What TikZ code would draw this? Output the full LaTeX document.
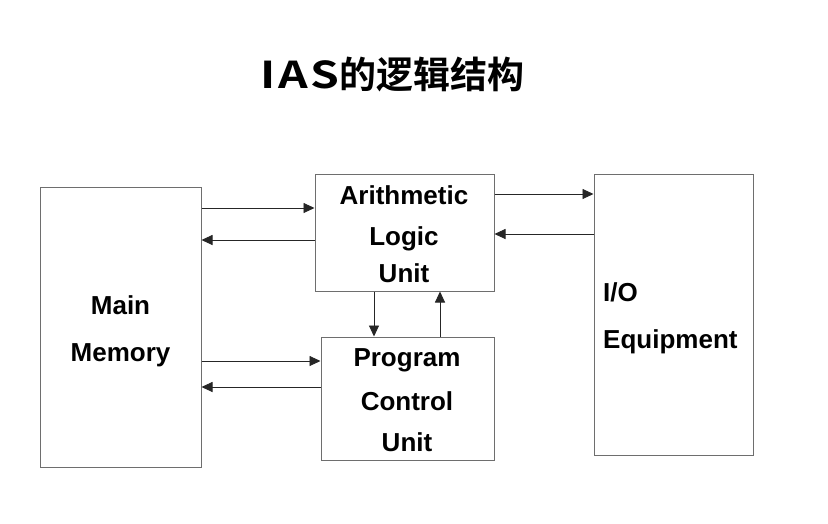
\documentclass[tikz,border=0pt]{standalone}
\usepackage{fontspec}
\setmainfont{Liberation Sans}
\newfontfamily\cjkbold{Noto Sans CJK SC Bold}
\newfontfamily\iasfont[LetterSpace=6]{Noto Sans CJK SC Bold}
\usetikzlibrary{arrows.meta}
\definecolor{boxgray}{RGB}{110,110,110}
\begin{document}
\begin{tikzpicture}[x=1pt,y=-1pt,
  unitbox/.style={draw=boxgray,line width=1pt,rectangle,inner sep=0pt},
  lbl/.style={font=\fontsize{26}{26}\selectfont\bfseries,inner sep=0pt,text height=18.6pt,text depth=0pt},
  conn/.style={line width=0.9pt,draw=black!85,-{Triangle[length=11pt,width=10pt]}}]
\useasboundingbox (0,0) rectangle (828,523);
\fill[white] (0,0) rectangle (828,523);
% title
\node[inner sep=0pt] (title) at (392.5,75) {\fontsize{37}{37}\selectfont\scalebox{1.25}[1]{\iasfont IAS}\cjkbold 的逻辑结构};
% boxes
\node[unitbox,minimum width=161pt,minimum height=280pt] (mm) at (120.5,327) {};
\node[unitbox,minimum width=179pt,minimum height=117pt] (alu) at (404.5,232.5) {};
\node[unitbox,minimum width=173pt,minimum height=123pt] (pcu) at (407.5,398.5) {};
\node[unitbox,minimum width=159pt,minimum height=281pt] (io) at (673.5,314.5) {};
% labels
\node[lbl] (mm1) at (120.5,305) {Main};
\node[lbl] (mm2) at (120.5,352) {Memory};
\node[lbl] (alu1) at (404,195) {Arithmetic};
\node[lbl] (alu2) at (404,236) {Logic};
\node[lbl] (alu3) at (404,273) {Unit};
\node[lbl] (pcu1) at (407,357) {Program};
\node[lbl] (pcu2) at (407,401) {Control};
\node[lbl] (pcu3) at (407,442) {Unit};
\node[lbl,anchor=west] (io1) at (603,292) {I/O};
\node[lbl,anchor=west] (io2) at (603,339) {Equipment};
% connectors
\draw[conn] (mm.east |- 0,208) -- (alu.west |- 0,208);
\draw[conn] (alu.west |- 0,240) -- (mm.east |- 0,240);
\draw[conn] (alu.east |- 0,194) -- (io.west |- 0,194);
\draw[conn] (io.west |- 0,234) -- (alu.east |- 0,234);
\draw[conn] (alu.south -| 374,0) -- (pcu.north -| 374,0);
\draw[conn] (pcu.north -| 440,0) -- (alu.south -| 440,0);
\draw[conn] (mm.east |- 0,361) -- (pcu.west |- 0,361);
\draw[conn] (pcu.west |- 0,387) -- (mm.east |- 0,387);
\end{tikzpicture}
\end{document}
